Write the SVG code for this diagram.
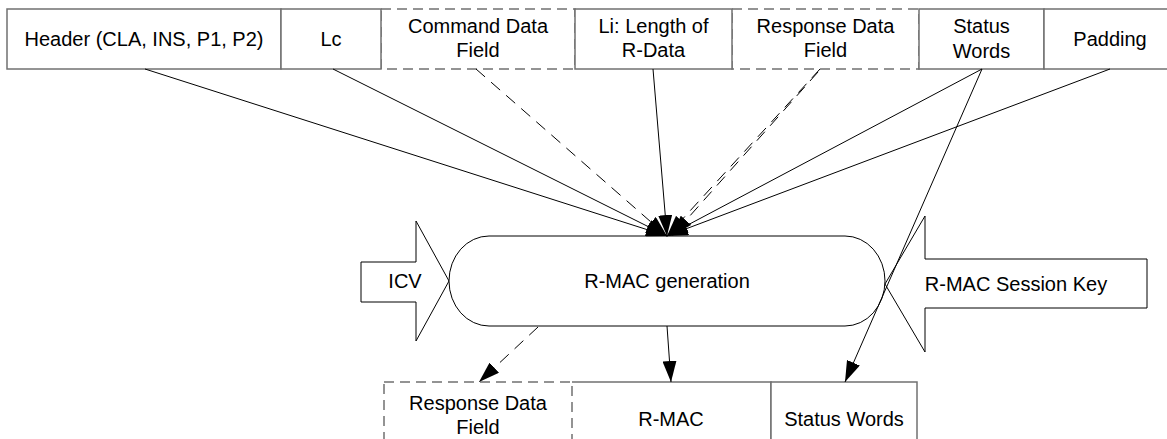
<svg xmlns="http://www.w3.org/2000/svg" width="1167" height="439" viewBox="0 0 1167 439">
<defs>
<style>
.box{fill:#fff;stroke:#707070;stroke-width:1.5}
.dbox{fill:#fff;stroke:#707070;stroke-width:1.5;stroke-dasharray:10,6}
.t{font-family:"Liberation Sans",Arial,sans-serif;font-size:20px;fill:#000;text-anchor:middle}
.ln{stroke:#000;stroke-width:1;fill:none}
.dl{stroke:#000;stroke-width:1;fill:none;stroke-dasharray:12,8}
.shape{fill:#fff;stroke:#000;stroke-width:1}
</style>
<marker id="ah" markerUnits="userSpaceOnUse" markerWidth="22" markerHeight="14" refX="21" refY="7" orient="auto" viewBox="0 0 22 14">
<path d="M0,0 L21,7 L0,14 Z" fill="#000"/>
</marker>
</defs>
<g id="cmd-field">
<rect class="dbox" x="381" y="9" width="194" height="60"/>
<text class="t" x="478" y="33">Command Data</text>
<text class="t" x="478" y="57">Field</text>
</g>
<g id="resp-field-top">
<rect class="dbox" x="732" y="9" width="187" height="60"/>
<text class="t" x="825.5" y="33">Response Data</text>
<text class="t" x="825.5" y="57">Field</text>
</g>
<g id="header">
<rect class="box" x="7" y="9" width="274" height="60"/>
<text class="t" x="144" y="46">Header (CLA, INS, P1, P2)</text>
</g>
<g id="lc">
<rect class="box" x="281" y="9" width="100" height="60"/>
<text class="t" x="331" y="46">Lc</text>
</g>
<g id="li">
<rect class="box" x="575" y="9" width="157" height="60"/>
<text class="t" x="653.5" y="33">Li: Length of</text>
<text class="t" x="653.5" y="57">R-Data</text>
</g>
<g id="sw-top">
<rect class="box" x="919" y="9" width="125" height="60"/>
<text class="t" x="981.5" y="33">Status</text>
<text class="t" x="981.5" y="58">Words</text>
</g>
<g id="padding">
<rect class="box" x="1044" y="9" width="135" height="60"/>
<text class="t" x="1110" y="46">Padding</text>
</g>
<g id="icv">
<polygon class="shape" points="361,262 416,262 416,221 449,281 416,341 416,302 361,302"/>
<text class="t" x="405" y="288">ICV</text>
</g>
<g id="session-key">
<polygon class="shape" points="1147,259 925,259 925,216 885,284 925,352 925,308 1147,308"/>
<text class="t" x="1016" y="291">R-MAC Session Key</text>
</g>
<g id="rmac-gen">
<rect class="shape" x="449" y="236" width="436" height="90" rx="40" ry="45"/>
<text class="t" x="667" y="288">R-MAC generation</text>
</g>
<g id="resp-field-bottom">
<rect class="dbox" x="384" y="382" width="188" height="74"/>
<text class="t" x="478" y="410">Response Data</text>
<text class="t" x="478" y="434">Field</text>
</g>
<g id="rmac">
<path class="box" d="M572,382 H771 V456 M572,456 H771"/>
<text class="t" x="671" y="426">R-MAC</text>
</g>
<g id="sw-bottom">
<rect class="box" x="771" y="382" width="146" height="74"/>
<text class="t" x="844" y="426">Status Words</text>
</g>
<g id="connectors">
<line class="ln" x1="145" y1="69" x2="667" y2="236" marker-end="url(#ah)"/>
<line class="ln" x1="333" y1="69" x2="667" y2="236" marker-end="url(#ah)"/>
<line class="dl" x1="476" y1="69" x2="667" y2="236" marker-end="url(#ah)"/>
<line class="ln" x1="653" y1="69" x2="667" y2="236" marker-end="url(#ah)"/>
<line class="dl" x1="820" y1="69" x2="667" y2="236" marker-end="url(#ah)"/>
<line class="dl" x1="818" y1="72" x2="672" y2="236" marker-end="url(#ah)"/>
<line class="ln" x1="982" y1="69" x2="667" y2="236" marker-end="url(#ah)"/>
<line class="ln" x1="1110" y1="69" x2="667" y2="236" marker-end="url(#ah)"/>
<line class="ln" x1="982" y1="69" x2="845" y2="382" marker-end="url(#ah)"/>
<line class="ln" x1="667" y1="326" x2="671" y2="382" marker-end="url(#ah)"/>
<line class="dl" x1="538" y1="327" x2="479" y2="382" marker-end="url(#ah)"/>
</g>
</svg>
